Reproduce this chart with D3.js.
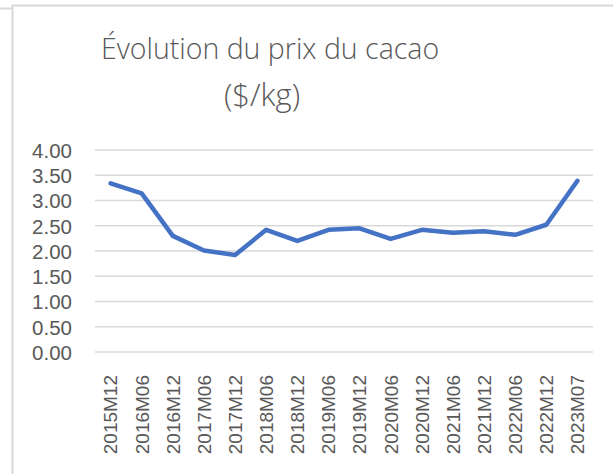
<!DOCTYPE html>
<html>
<head>
<meta charset="utf-8">
<script src="https://cdn.jsdelivr.net/npm/d3@7"></script>
<style>
  body { margin: 0; background: #fff; }
  text { font-family: "Open Sans", "Noto Sans", sans-serif; fill: #595959; }
</style>
</head>
<body>
<script>
// prix du cacao, $/kg
const periods = [
  '2015M12', '2016M06', '2016M12', '2017M06', '2017M12', '2018M06',
  '2018M12', '2019M06', '2019M12', '2020M06', '2020M12', '2021M06',
  '2021M12', '2022M06', '2022M12', '2023M07',
];
const prices = [
  3.34, 3.14, 2.30, 2.01, 1.92, 2.42,
  2.20, 2.42, 2.45, 2.24, 2.42, 2.36,
  2.39, 2.32, 2.52, 3.39,
];
const yTicks = [0, 0.5, 1, 1.5, 2, 2.5, 3, 3.5, 4];

const svg = d3.select('body')
  .append('svg')
  .attr('width', 613)
  .attr('height', 474);

// cadre du graphique
svg.append('path')
  .attr('d', 'M0,8.5H12.5M12.5,474V5.5H613')
  .attr('fill', 'none')
  .attr('stroke', '#d9d9d9')
  .attr('stroke-width', 2);

const margin = { top: 150, left: 95 };
const width = 498;
const height = 202;

const g = svg.append('g')
  .attr('transform', `translate(${margin.left} ${margin.top})`);

const x = d3.scaleBand()
  .domain(periods)
  .range([0, width]);

const y = d3.scaleLinear()
  .domain([0, 4])
  .range([height, 0]);

// grille
g.selectAll('.grid')
  .data(yTicks)
  .enter()
    .append('line')
    .attr('class', 'grid')
    .attr('x1', 0)
    .attr('x2', width)
    .attr('y1', d => y(d))
    .attr('y2', d => y(d))
    .attr('stroke', '#d9d9d9')
    .attr('stroke-width', 1.5);

// axe des y
const yAxis = g.append('g')
  .call(d3.axisLeft(y).tickValues(yTicks).tickFormat(d3.format('.2f')).tickSize(0).tickPadding(23));
yAxis.select('.domain').remove();
yAxis.selectAll('text')
  .attr('font-size', 20.5)
  .attr('dy', '0.36em')
  .style('font-family', '"Liberation Sans", Arial, sans-serif')
  .attr('fill', '#595959');

// axe des x
const xAxis = g.append('g')
  .attr('transform', `translate(0 ${height})`)
  .call(d3.axisBottom(x).tickSize(0));
xAxis.select('.domain').remove();
xAxis.selectAll('text')
  .attr('font-size', 19)
  .style('font-family', '"Liberation Sans", Arial, sans-serif')
  .attr('fill', '#595959')
  .attr('text-anchor', 'end')
  .attr('transform', 'rotate(-90)')
  .attr('x', -23)
  .attr('y', 0)
  .attr('dy', '0.36em');

// courbe
const line = d3.line()
  .x((d, i) => x(periods[i]) + x.bandwidth() / 2)
  .y(d => y(d));

g.append('path')
  .datum(prices)
  .attr('d', line)
  .attr('fill', 'none')
  .attr('stroke', '#4472c4')
  .attr('stroke-width', 4.5)
  .attr('stroke-linecap', 'round')
  .attr('stroke-linejoin', 'round');

// titre
const title = svg.append('text')
  .attr('text-anchor', 'middle')
  .attr('font-size', 28.5)
  .attr('font-weight', 300);
title.append('tspan').attr('x', 270).attr('y', 59).text('Évolution du prix du cacao');
title.append('tspan').attr('x', 262).attr('y', 106).attr('font-size', 31).text('($/kg)');
</script>
</body>
</html>
